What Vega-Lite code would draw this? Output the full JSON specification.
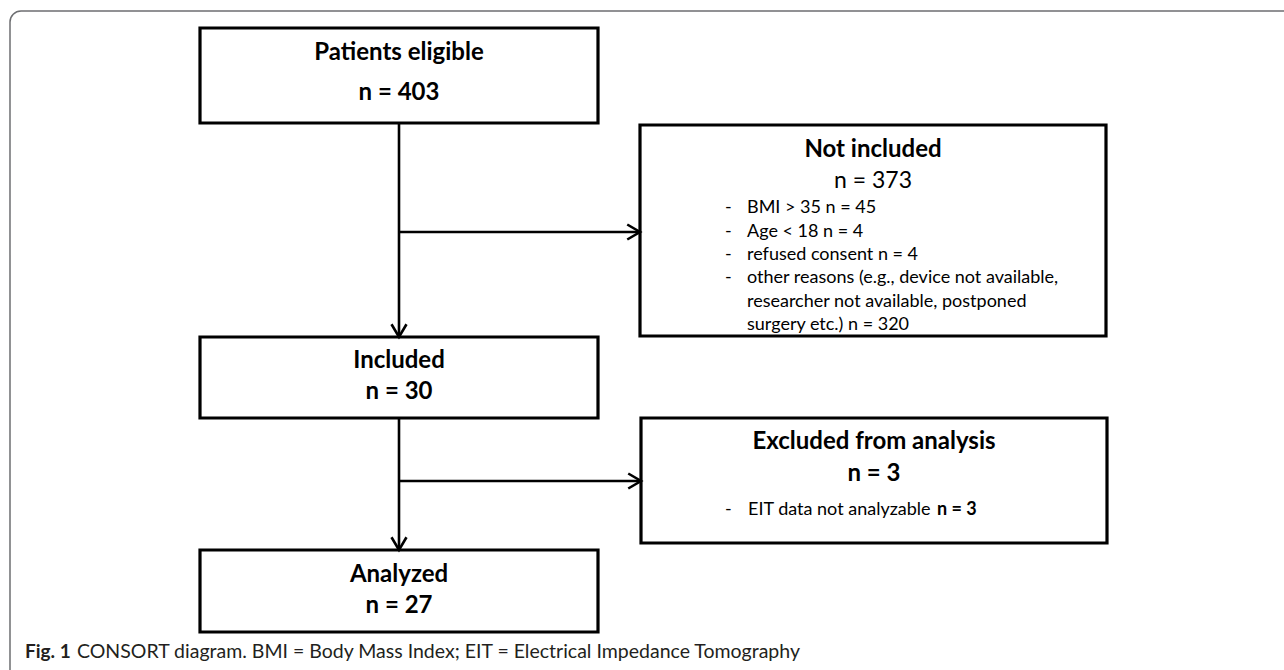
{
  "$schema": "https://vega.github.io/schema/vega-lite/v6.json",
  "width": 1284,
  "height": 670,
  "padding": 0,
  "autosize": {"type": "none"},
  "background": "white",
  "config": {"view": {"stroke": null}, "axis": {"disable": true}},
  "datasets": {
    "frame": [{"x1": 10, "y1": 11, "x2": 1310, "y2": 700}],
    "boxes": [
      {"step": "Patients eligible", "x1": 200, "x2": 598, "y1": 28, "y2": 123},
      {"step": "Not included", "x1": 640, "x2": 1106, "y1": 125, "y2": 336},
      {"step": "Included", "x1": 200, "x2": 598, "y1": 337, "y2": 418},
      {"step": "Excluded from analysis", "x1": 641, "x2": 1107, "y1": 418, "y2": 543},
      {"step": "Analyzed", "x1": 200, "x2": 598, "y1": 550, "y2": 632}
    ],
    "links": [
      {"from": "Patients eligible", "to": "Included", "x1": 399, "y1": 123, "x2": 399, "y2": 337},
      {"from": "Patients eligible", "to": "Not included", "x1": 399, "y1": 232, "x2": 640, "y2": 232},
      {"from": "Included", "to": "Analyzed", "x1": 399, "y1": 418, "x2": 399, "y2": 550},
      {"from": "Included", "to": "Excluded from analysis", "x1": 399, "y1": 481, "x2": 641, "y2": 481}
    ],
    "arrows": [
      {"to": "Not included", "x": 640, "y": 232, "dir": "right"},
      {"to": "Included", "x": 399, "y": 337, "dir": "down"},
      {"to": "Excluded from analysis", "x": 641, "y": 481, "dir": "right"},
      {"to": "Analyzed", "x": 399, "y": 550, "dir": "down"}
    ],
    "labels": [
      {"kind": "head", "text": "Patients eligible", "x": 399, "y": 60},
      {"kind": "head", "text": "n = 403", "x": 399, "y": 100},
      {"kind": "head", "text": "Included", "x": 399, "y": 368},
      {"kind": "head", "text": "n = 30", "x": 399, "y": 399},
      {"kind": "head", "text": "Analyzed", "x": 399, "y": 582},
      {"kind": "head", "text": "n = 27", "x": 399, "y": 613},
      {"kind": "head", "text": "Not included", "x": 873, "y": 157},
      {"kind": "head", "text": "Excluded from analysis", "x": 874, "y": 449},
      {"kind": "head", "text": "n = 3", "x": 874, "y": 481},
      {"kind": "count", "text": "n = 373", "x": 873, "y": 188},
      {"kind": "dash", "text": "-", "x": 725, "y": 213},
      {"kind": "dash", "text": "-", "x": 725, "y": 237},
      {"kind": "dash", "text": "-", "x": 725, "y": 260},
      {"kind": "dash", "text": "-", "x": 725, "y": 283},
      {"kind": "dash", "text": "-", "x": 725, "y": 515},
      {"kind": "item", "text": "BMI > 35 n = 45", "x": 747, "y": 213},
      {"kind": "item", "text": "Age < 18 n = 4", "x": 747, "y": 237},
      {"kind": "item", "text": "refused consent n = 4", "x": 747, "y": 260},
      {"kind": "item", "text": "other reasons (e.g., device not available,", "x": 747, "y": 283},
      {"kind": "item", "text": "researcher not available, postponed", "x": 747, "y": 307},
      {"kind": "item", "text": "surgery etc.) n = 320", "x": 747, "y": 330},
      {"kind": "item", "text": "EIT data not analyzable", "x": 748, "y": 515},
      {"kind": "itembold", "text": "n = 3", "x": 937, "y": 515},
      {"kind": "fig", "text": "Fig. 1", "x": 25, "y": 658},
      {"kind": "caption", "text": "CONSORT diagram. BMI = Body Mass Index; EIT = Electrical Impedance Tomography", "x": 77, "y": 658}
    ]
  },
  "layer": [
    {
      "data": {"name": "frame"},
      "mark": {"type": "rect", "fill": null, "stroke": "#6d6e71", "strokeWidth": 1.5, "cornerRadius": 11, "clip": true},
      "encoding": {
        "x": {"field": "x1", "type": "quantitative", "scale": {"domain": [0, 1284], "nice": false, "zero": false}},
        "x2": {"field": "x2"},
        "y": {"field": "y1", "type": "quantitative", "scale": {"domain": [0, 670], "reverse": true, "nice": false, "zero": false}},
        "y2": {"field": "y2"}
      }
    },
    {
      "data": {"name": "links"},
      "mark": {"type": "rule", "stroke": "black", "strokeWidth": 2.6},
      "encoding": {
        "x": {"field": "x1", "type": "quantitative", "scale": {"domain": [0, 1284], "nice": false, "zero": false}},
        "x2": {"field": "x2"},
        "y": {"field": "y1", "type": "quantitative", "scale": {"domain": [0, 670], "reverse": true, "nice": false, "zero": false}},
        "y2": {"field": "y2"}
      }
    },
    {
      "data": {"name": "boxes"},
      "mark": {"type": "rect", "fill": "white", "stroke": "black", "strokeWidth": 3.2},
      "encoding": {
        "x": {"field": "x1", "type": "quantitative", "scale": {"domain": [0, 1284], "nice": false, "zero": false}},
        "x2": {"field": "x2"},
        "y": {"field": "y1", "type": "quantitative", "scale": {"domain": [0, 670], "reverse": true, "nice": false, "zero": false}},
        "y2": {"field": "y2"}
      }
    },
    {
      "data": {"name": "arrows"},
      "mark": {"type": "point", "shape": "M-1.7,-1L0,0L-1.7,1", "filled": false, "stroke": "black", "strokeWidth": 2.6, "size": 225, "opacity": 1},
      "encoding": {
        "x": {"field": "x", "type": "quantitative", "scale": {"domain": [0, 1284], "nice": false, "zero": false}},
        "y": {"field": "y", "type": "quantitative", "scale": {"domain": [0, 670], "reverse": true, "nice": false, "zero": false}},
        "angle": {"field": "dir", "type": "nominal", "scale": {"domain": ["right", "down"], "range": [0, 90]}, "legend": null}
      }
    },
    {
      "data": {"name": "labels"},
      "transform": [{"filter": "datum.kind === 'head'"}],
      "mark": {"type": "text", "font": "Lato", "fontWeight": "bold", "fontSize": 24, "align": "center", "baseline": "alphabetic", "color": "black"},
      "encoding": {
        "x": {"field": "x", "type": "quantitative", "scale": {"domain": [0, 1284], "nice": false, "zero": false}},
        "y": {"field": "y", "type": "quantitative", "scale": {"domain": [0, 670], "reverse": true, "nice": false, "zero": false}},
        "text": {"field": "text"}
      }
    },
    {
      "data": {"name": "labels"},
      "transform": [{"filter": "datum.kind === 'count'"}],
      "mark": {"type": "text", "font": "Lato", "fontSize": 23, "align": "center", "baseline": "alphabetic", "color": "black"},
      "encoding": {
        "x": {"field": "x", "type": "quantitative", "scale": {"domain": [0, 1284], "nice": false, "zero": false}},
        "y": {"field": "y", "type": "quantitative", "scale": {"domain": [0, 670], "reverse": true, "nice": false, "zero": false}},
        "text": {"field": "text"}
      }
    },
    {
      "data": {"name": "labels"},
      "transform": [{"filter": "datum.kind === 'dash' || datum.kind === 'item'"}],
      "mark": {"type": "text", "font": "Lato", "fontSize": 18, "align": "left", "baseline": "alphabetic", "color": "black"},
      "encoding": {
        "x": {"field": "x", "type": "quantitative", "scale": {"domain": [0, 1284], "nice": false, "zero": false}},
        "y": {"field": "y", "type": "quantitative", "scale": {"domain": [0, 670], "reverse": true, "nice": false, "zero": false}},
        "text": {"field": "text"}
      }
    },
    {
      "data": {"name": "labels"},
      "transform": [{"filter": "datum.kind === 'itembold'"}],
      "mark": {"type": "text", "font": "Lato", "fontWeight": "bold", "fontSize": 18, "align": "left", "baseline": "alphabetic", "color": "black"},
      "encoding": {
        "x": {"field": "x", "type": "quantitative", "scale": {"domain": [0, 1284], "nice": false, "zero": false}},
        "y": {"field": "y", "type": "quantitative", "scale": {"domain": [0, 670], "reverse": true, "nice": false, "zero": false}},
        "text": {"field": "text"}
      }
    },
    {
      "data": {"name": "labels"},
      "transform": [{"filter": "datum.kind === 'fig'"}],
      "mark": {"type": "text", "font": "Lato", "fontWeight": "bold", "fontSize": 19, "align": "left", "baseline": "alphabetic", "color": "#231f20"},
      "encoding": {
        "x": {"field": "x", "type": "quantitative", "scale": {"domain": [0, 1284], "nice": false, "zero": false}},
        "y": {"field": "y", "type": "quantitative", "scale": {"domain": [0, 670], "reverse": true, "nice": false, "zero": false}},
        "text": {"field": "text"}
      }
    },
    {
      "data": {"name": "labels"},
      "transform": [{"filter": "datum.kind === 'caption'"}],
      "mark": {"type": "text", "font": "Lato", "fontSize": 19.5, "align": "left", "baseline": "alphabetic", "color": "#231f20"},
      "encoding": {
        "x": {"field": "x", "type": "quantitative", "scale": {"domain": [0, 1284], "nice": false, "zero": false}},
        "y": {"field": "y", "type": "quantitative", "scale": {"domain": [0, 670], "reverse": true, "nice": false, "zero": false}},
        "text": {"field": "text"}
      }
    }
  ]
}
